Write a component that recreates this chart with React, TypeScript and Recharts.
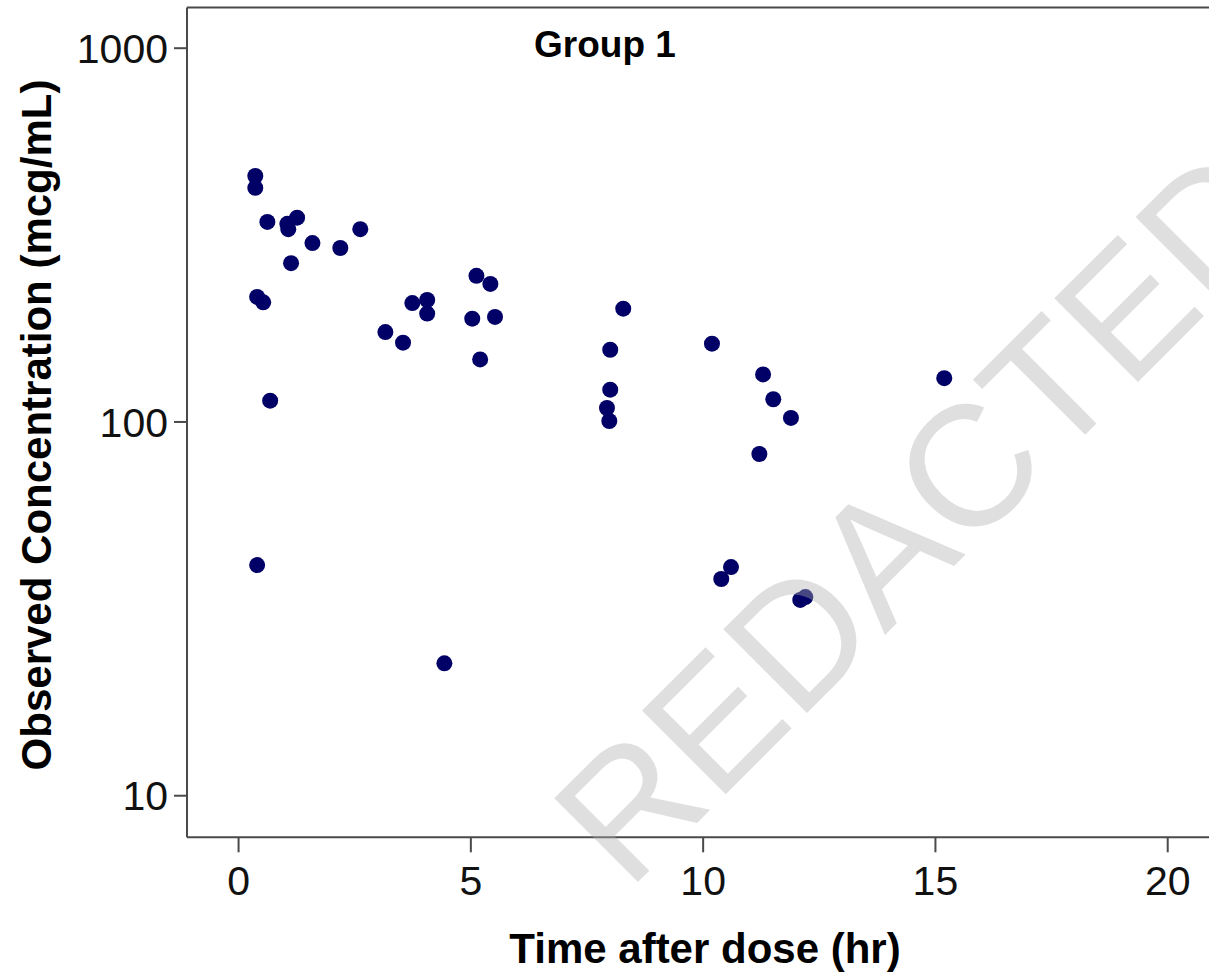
import { ScatterChart, Scatter, XAxis, YAxis, ReferenceLine } from 'recharts';

const timeHr = [
  0.36, 0.36, 0.62, 1.05, 1.07, 1.26, 1.59, 2.19, 2.62, 1.13,
  0.4, 0.53, 3.74, 4.06, 4.06, 3.16, 3.54, 5.12, 5.42, 5.03,
  5.52, 5.2, 0.68, 0.4, 4.43, 8.28, 8.0, 10.19, 8.0, 7.93,
  7.98, 11.29, 11.51, 11.89, 11.21, 10.6, 10.39, 12.09, 12.2, 15.19,
];
const concentration = [
  455, 423, 343, 339, 328, 352, 301, 292, 328, 266,
  216, 209, 208, 212, 195, 174, 163, 246, 234, 189,
  191, 147, 114, 41.4, 22.6, 201, 156, 162, 122, 109,
  100.6, 134, 115, 102.5, 82.1, 40.9, 38.0, 33.4, 34.0, 131,
];
const xTicks = [0, 5, 10, 15, 20];
const yTicks = [10, 100, 1000];

const points = timeHr.map((t, i) => ({ t, c: concentration[i] }));

const FONT = '"Liberation Sans", Arial, Helvetica, sans-serif';
const AXIS = '#4a4a4a';
const DOT = '#000066';

const Dot = (props: any) => <circle cx={props.cx} cy={props.cy} r={8} fill={DOT} />;

export default function App() {
  return (
    <div
      style={{
        position: 'fixed',
        left: 0,
        top: 0,
        width: 1209,
        height: 978,
        overflow: 'hidden',
        background: '#fff',
      }}
    >
      <ScatterChart
        width={1260}
        height={978}
        margin={{ top: 7.5, right: 37, bottom: 40.7, left: 0 }}
      >
        <XAxis
          type="number"
          dataKey="t"
          domain={[-1.11, 21.19]}
          allowDataOverflow
          ticks={xTicks}
          height={100}
          tickSize={15}
          tickMargin={14}
          stroke={AXIS}
          strokeWidth={2}
          tick={{ fill: '#111', fontSize: 41, fontFamily: FONT }}
          label={() => (
            <text x={705} y={963} textAnchor="middle" fontFamily={FONT} fontWeight="bold" fontSize={42} fill="#000">
              Time after dose (hr)
            </text>
          )}
        />
        <YAxis
          type="number"
          dataKey="c"
          scale="log"
          domain={[7.74, 1285]}
          allowDataOverflow
          ticks={yTicks}
          width={187}
          tickSize={13}
          tickMargin={6}
          stroke={AXIS}
          strokeWidth={2}
          tick={{ fill: '#111', fontSize: 41, fontFamily: FONT }}
          label={() => (
            <text
              x={51}
              y={425}
              transform="rotate(-90 51 425)"
              textAnchor="middle"
              fontFamily={FONT}
              fontWeight="bold"
              fontSize={42}
              fill="#000"
            >
              Observed Concentration (mcg/mL)
            </text>
          )}
        />
        <ReferenceLine y={1285} stroke={AXIS} strokeWidth={2} ifOverflow="extendDomain" />
        <Scatter data={points} shape={Dot} isAnimationActive={false} />
      </ScatterChart>
      <svg
        width={1209}
        height={978}
        style={{ position: 'absolute', left: 0, top: 0, pointerEvents: 'none' }}
      >
        <text x={605} y={57} textAnchor="middle" fontFamily={FONT} fontWeight="bold" fontSize={37} fill="#000">
          Group 1
        </text>
        <text
          x={628}
          y={892}
          transform="rotate(-45 628 892)"
          fontFamily={FONT}
          fontSize={172}
          fill="#afafaf"
          fillOpacity={0.4}
        >
          REDACTED
        </text>
      </svg>
    </div>
  );
}
